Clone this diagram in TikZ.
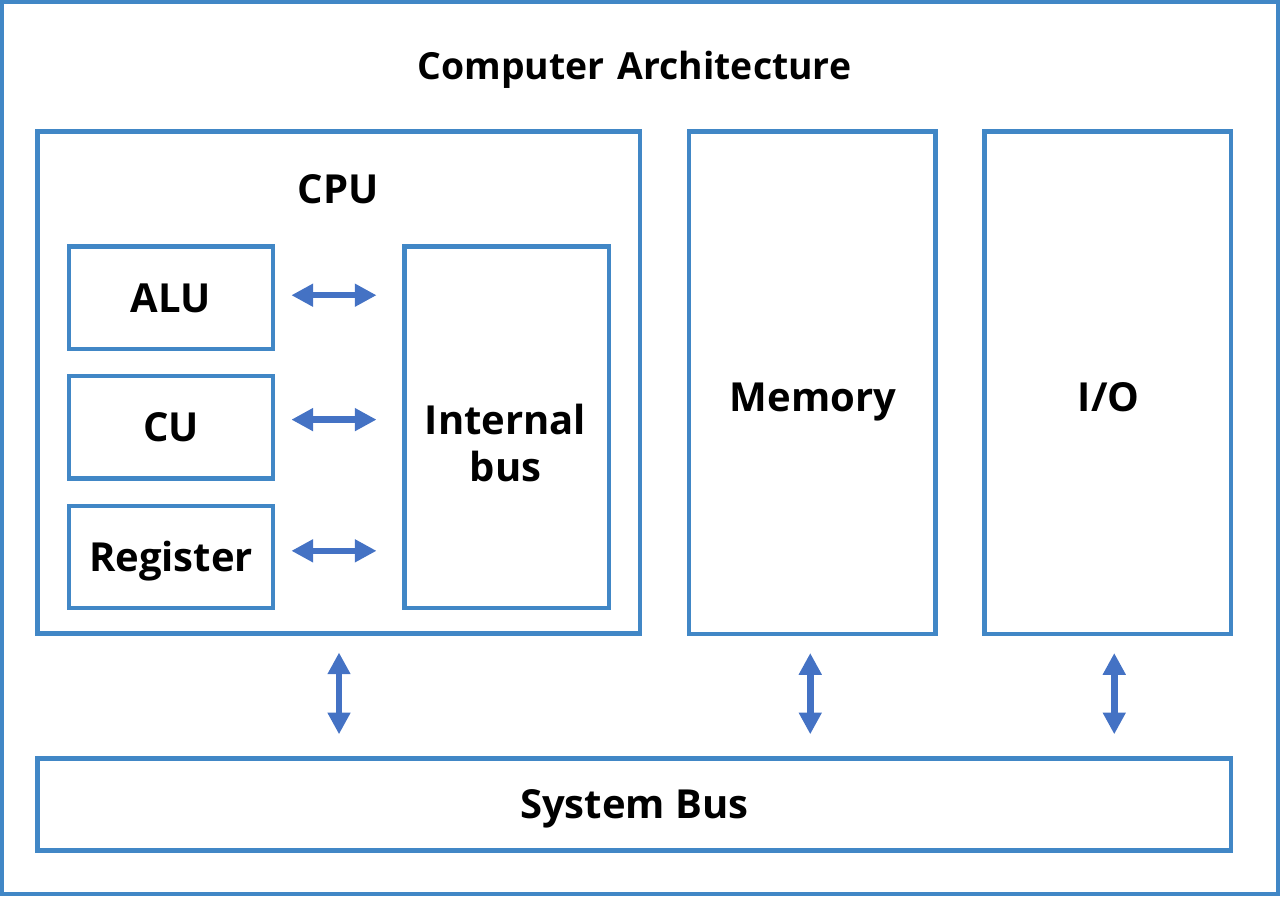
\documentclass[tikz,border=0pt]{standalone}
\usepackage{fontspec}
\setmainfont{Open Sans}
\usetikzlibrary{arrows.meta, positioning}

\definecolor{boxblue}{HTML}{4187C6}
\definecolor{arrowblue}{HTML}{4472C4}

\tikzset{
  box/.style = {draw = boxblue, line width = 3.3pt, inner sep = 0pt,
                font = \fontsize{30pt}{35pt}\selectfont\bfseries,
                text height = 21.4pt, text depth = 0pt},
  label text/.style = {font = \fontsize{30pt}{35pt}\selectfont\bfseries, inner sep = 0pt},
  link/.style = {draw = arrowblue, line width = 4.9pt,
                 {Triangle[width=16.3pt, length=16.3pt]}-{Triangle[width=16.3pt, length=16.3pt]}}
}

\begin{document}
\begin{tikzpicture}[x = 0.75pt, y = -0.75pt, on grid]
  \useasboundingbox (0,0) rectangle (1280,896);
  \draw[boxblue, line width = 3.3pt] (2,2) rectangle (1278,894);

  \node[label text, anchor = base, font = \fontsize{28pt}{33pt}\selectfont\bfseries]
    (title) at (634.5,79.3) {Computer\hspace{0.35em}Architecture};

  % CPU and its parts
  \node[box, minimum width = 451.9pt, minimum height = 376.5pt] (cpu) at (338.75,382.5) {};
  \node[label text, anchor = base] (cpulabel) at (338,203.3) {CPU};
  \node[box, minimum width = 153pt, minimum height = 76.7pt] (alu) at (171,297.75) {ALU};
  \node[box, minimum width = 153pt, minimum height = 76.7pt] (cu) [below = 97.2pt of alu] {CU};
  \node[box, minimum width = 153pt, minimum height = 76.7pt] (reg) [below = 97.2pt of cu] {Register};
  \node[box, minimum width = 153.4pt, minimum height = 271.1pt] (ibus) at (506.75,427.25) {};
  \node[label text, align = center] (ibuslabel) at (505.5,443.2) {Internal\\bus};

  % memory, I/O and the system bus
  \node[box, minimum width = 184.9pt, minimum height = 376.9pt] (mem) at (812.25,382.75) {};
  \node[box, minimum width = 184.9pt, minimum height = 376.9pt] (io) [right = 221.7pt of mem] {};
  \node[label text, anchor = base] (memlabel) at (812.8,411.7) {Memory};
  \node[label text, anchor = base] (iolabel) at (1108.7,411.7) {I/O};
  \node[box, minimum width = 895.1pt, minimum height = 69pt] (bus) at (634.25,804.5) {System Bus};

  \foreach \part/\dy in {alu/1.9pt, cu/5.8pt, reg/4.6pt}
    \draw[link, shorten < = 12.1pt, shorten > = 19.3pt]
      ([yshift = \dy]\part.east) -- ([yshift = \dy]\part.east -| ibus.west);

  \foreach \unit/\dx in {cpu/0.2pt, mem/-1.5pt, io/4.8pt}
    \draw[link, shorten < = 12.6pt, shorten > = 16.5pt]
      ([xshift = \dx]\unit.south) -- ([xshift = \dx]\unit.south |- bus.north);
\end{tikzpicture}
\end{document}
